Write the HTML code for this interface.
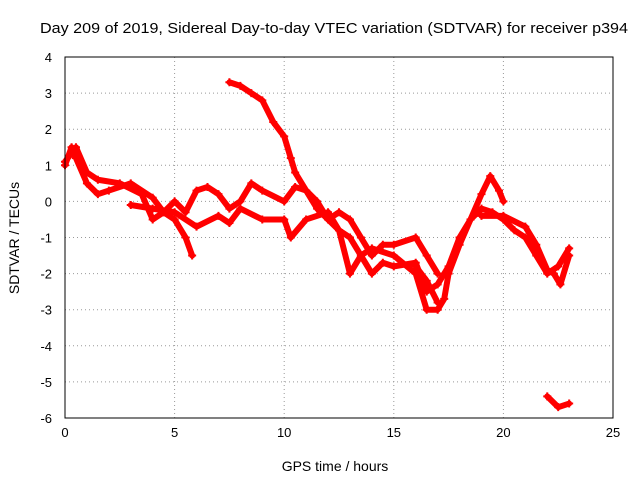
<!DOCTYPE html>
<html><head><meta charset="utf-8"><style>
body{margin:0;background:#fff;}
svg{display:block;font-family:"Liberation Sans",sans-serif;}
</style></head><body>
<svg id="chart" width="640" height="480">
<rect width="640" height="480" fill="#fff"/>
<text x="334" y="33" font-size="14.5" text-anchor="middle" textLength="588" lengthAdjust="spacingAndGlyphs">Day 209 of 2019, Sidereal Day-to-day VTEC variation (SDTVAR) for receiver p394</text>
<text x="335" y="471" font-size="14" text-anchor="middle">GPS time / hours</text>
<text transform="translate(19,238) rotate(-90)" font-size="14" text-anchor="middle">SDTVAR / TECUs</text>
<g id="grid"></g><g id="ticks"></g><g id="marks"></g>
<rect x="65" y="57" width="548" height="361" fill="none" stroke="#000"/>
</svg>
<script>
const xTicks=[0,5,10,15,20,25];
const yTicks=[4,3,2,1,0,-1,-2,-3,-4,-5,-6];
const trackA=[[0,1.0],[0.3,1.5],[0.5,1.2],[1,0.5],[1.5,0.2],[2,0.3],[3,0.5],[4,0.1],[4.5,-0.3],[5,-0.5],[5.5,-1.0],[5.8,-1.5]];
const trackB=[[0,1.1],[0.5,1.5],[1,0.8],[1.5,0.6],[2.5,0.5],[3.5,0.2],[4,-0.5],[4.5,-0.3],[5,0],[5.5,-0.3],[6,0.3],[6.5,0.4],[7,0.2],[7.5,-0.2],[8,0],[8.5,0.5],[9,0.3],[10,0],[10.5,0.4],[11,0.3],[11.5,-0.2],[12,-0.5],[12.5,-0.3],[13,-0.5],[13.5,-1],[14,-1.5],[14.5,-1.2],[15,-1.2],[16,-1.0],[16.5,-1.5],[17,-2]];
const trackC=[[7.5,3.3],[8,3.2],[8.5,3.0],[9,2.8],[9.5,2.2],[10,1.8],[10.3,1.2],[10.5,0.8],[11,0.3],[11.5,0],[12,-0.5],[12.5,-0.8],[13,-1.0],[13.5,-1.5],[14,-2.0],[14.5,-1.7],[15,-1.8],[16,-1.7],[16.5,-2.5],[17,-2.3],[17.5,-1.8],[18,-1.0],[18.5,-0.5],[19,0.2],[19.4,0.7],[19.8,0.3],[20,0]];
const trackD=[[3,-0.1],[4,-0.2],[5,-0.3],[6,-0.7],[7,-0.4],[7.5,-0.6],[8,-0.2],[9,-0.5],[10,-0.5],[10.3,-1.0],[11,-0.5],[12,-0.3],[12.5,-0.8],[13,-2],[13.5,-1.5],[14,-1.3],[15,-1.5],[16,-2.0],[16.5,-3.0],[17,-3.0],[17.3,-2.7],[17.5,-2.0],[18,-1.2],[18.5,-0.5],[19,-0.2],[19.5,-0.3],[20,-0.5],[20.5,-0.8],[21,-1.0],[21.5,-1.5],[22,-2.0],[22.5,-1.8],[23,-1.3]];
const trackE=[[16,-1.8],[16.5,-2.2],[17,-2.8]];
const trackF=[[19,-0.4],[20,-0.4],[21,-0.7],[21.5,-1.2],[22,-1.9],[22.3,-2.0],[22.6,-2.3],[23,-1.5]];
const trackG=[[22,-5.4],[22.5,-5.7],[23,-5.6]];
const tracks=[trackA,trackB,trackC,trackD,trackE,trackF,trackG];
const X=v=>65+v*548/25, Y=v=>57+(4-v)*361/10;
const NS="http://www.w3.org/2000/svg";
const grid=document.getElementById('grid'),ticks=document.getElementById('ticks'),marks=document.getElementById('marks');
function mk(tag,attrs,parent){const e=document.createElementNS(NS,tag);for(const k in attrs)e.setAttribute(k,attrs[k]);parent.appendChild(e);return e;}
xTicks.forEach(t=>{
 if(t>0&&t<25){const g=mk('line',{x1:X(t),x2:X(t),y1:57,y2:418,stroke:'#999','stroke-dasharray':'1,3'},grid);
 
 }
 const l=mk('text',{x:X(t),y:437,'font-size':13,'text-anchor':'middle'},ticks);l.textContent=t;
 
 
});
yTicks.forEach(t=>{
 if(t<4&&t>-6){const g=mk('line',{x1:65,x2:613,y1:Y(t),y2:Y(t),stroke:'#999','stroke-dasharray':'1,3'},grid);
 
 }
 const l=mk('text',{x:52,y:Y(t)+5,'font-size':13,'text-anchor':'end'},ticks);l.textContent=t;
 
 
});
tracks.forEach((tr,i)=>{
 const p=mk('polyline',{points:tr.map(d=>X(d[0])+','+Y(d[1])).join(' '),fill:'none',stroke:'#f00','stroke-width':6,'stroke-linejoin':'round','stroke-linecap':'round'},marks);
 
 
 tr.forEach(d=>{
  const m=mk('path',{d:`M${X(d[0])-4},${Y(d[1])}h8M${X(d[0])},${Y(d[1])-4}v8`,stroke:'#f00','stroke-width':2},marks);
  
  
 });
});
</script>
</body></html>
